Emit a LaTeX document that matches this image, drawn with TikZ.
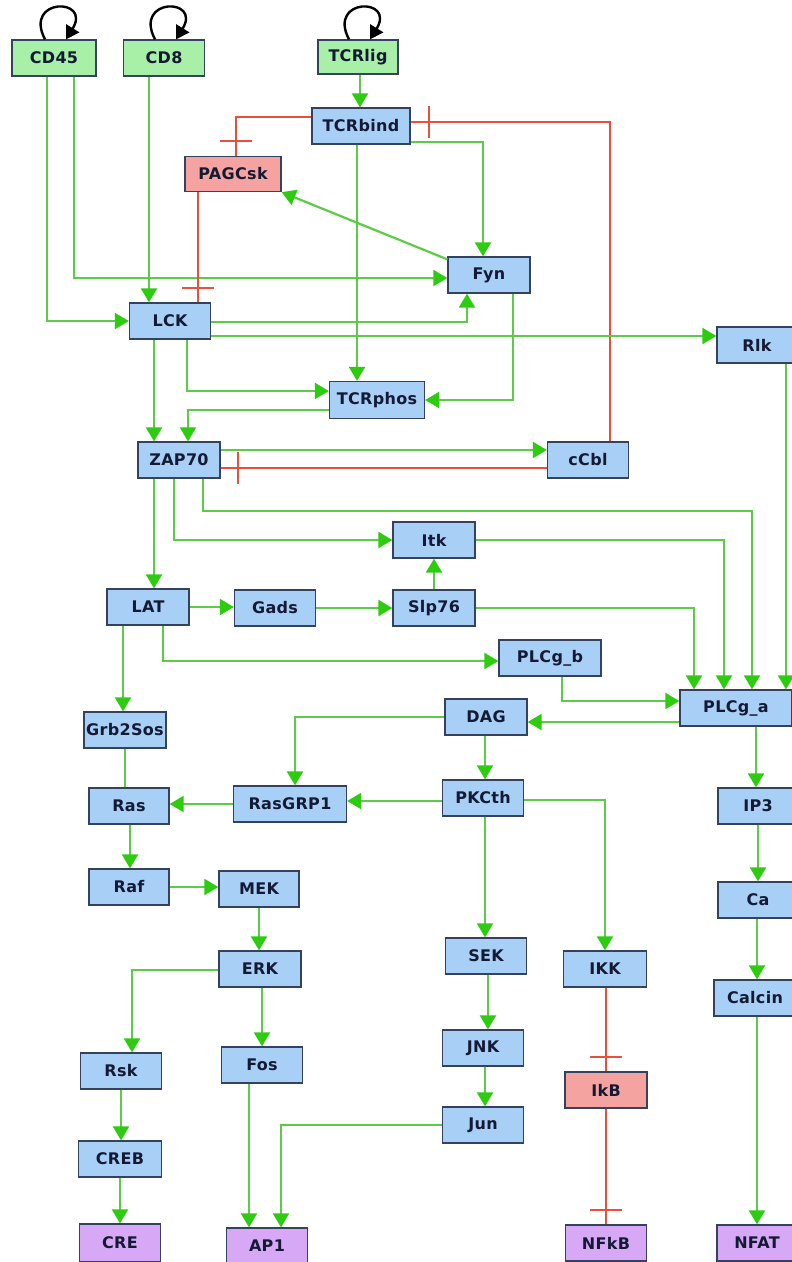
\documentclass[tikz,border=0pt]{standalone}
\usepackage{fontspec}
\newfontfamily\nodefont{DejaVu Sans}[LetterSpace=2]
\usetikzlibrary{arrows.meta,decorations.markings,calc}
\definecolor{bordc}{HTML}{34425E}
\definecolor{fblue}{HTML}{A8CFF5}
\definecolor{fgreen}{HTML}{A8EFA8}
\definecolor{fred}{HTML}{F5A3A0}
\definecolor{fpurp}{HTML}{D6A8F5}
\definecolor{lgreen}{HTML}{5CCB48}
\definecolor{agreen}{HTML}{2ECC10}
\definecolor{ired}{HTML}{E8503C}
\definecolor{txtc}{HTML}{141A33}
\tikzset{
  box/.style={draw=bordc, line width=1.3pt, minimum width=#1, minimum height=36pt, inner sep=0pt,
    font=\nodefont\bfseries\fontsize{16}{16}\selectfont, text=txtc},
  box/.default=82pt,
  bnode/.style={box=#1, fill=fblue}, bnode/.default=82pt,
  gnode/.style={box=#1, fill=fgreen}, gnode/.default=82pt,
  rnode/.style={box=#1, fill=fred}, rnode/.default=82pt,
  pnode/.style={box=#1, fill=fpurp}, pnode/.default=82pt,
  act/.style={draw=lgreen, line width=2.2pt, -{Triangle[length=14pt,width=16pt,color=agreen]}},
  plain/.style={draw=lgreen, line width=2.2pt},
  inh/.style={draw=ired, line width=2.2pt, postaction={decorate},
    decoration={markings, mark=at position -#1 with {\draw[ired, line width=2.2pt] (0,-16pt) -- (0,16pt);}}},
  inh/.default=15pt,
  selfloop/.style={draw=black, line width=2.4pt, -{Triangle[length=13pt,width=15pt]}}
}
\begin{document}
\begin{tikzpicture}[x=1pt,y=-1pt]
\useasboundingbox (0,0) rectangle (792,1262);
\fill[white] (0,0) rectangle (792,1262);
\clip (0,0) rectangle (792,1262);
% nodes
\node[gnode=84pt] (cd45) at (54,58) {CD45};
\node[gnode=81pt] (cd8) at (164,58) {CD8};
\node[gnode=80pt, minimum height=34pt] (tcrlig) at (358,57) {TCRlig};
\node[bnode=98pt] (tcrbind) at (361,126) {TCRbind};
\node[rnode=96pt, minimum height=35pt] (pagcsk) at (233,174) {PAGCsk};
\node[bnode] (fyn) at (489,275) {Fyn};
\node[bnode=81pt] (lck) at (170,321) {LCK};
\node[bnode=80pt] (rlk) at (757,345) {Rlk};
\node[bnode=95pt, minimum height=37pt] (tcrphos) at (377,400) {TCRphos};
\node[bnode] (zap70) at (179,460) {ZAP70};
\node[bnode=81pt] (ccbl) at (588,460) {cCbl};
\node[bnode] (itk) at (434,540) {Itk};
\node[bnode] (lat) at (148,607) {LAT};
\node[bnode=81pt] (gads) at (275,608) {Gads};
\node[bnode] (slp76) at (434,608) {Slp76};
\node[bnode=102pt] (plcgb) at (550,658) {PLCg\_b};
\node[bnode=112pt] (plcga) at (736,708) {PLCg\_a};
\node[bnode] (dag) at (486,717) {DAG};
\node[bnode] (grb2sos) at (125,730) {Grb2Sos};
\node[bnode=80pt] (ras) at (129,806) {Ras};
\node[bnode=113pt] (rasgrp1) at (290,804) {RasGRP1};
\node[bnode=81pt] (pkcth) at (483,798) {PKCth};
\node[bnode=80pt] (ip3) at (758,806) {IP3};
\node[bnode=80pt] (raf) at (129,887) {Raf};
\node[bnode=80pt] (mek) at (259,889) {MEK};
\node[bnode=80pt] (ca) at (758,900) {Ca};
\node[bnode=81pt] (sek) at (486,956) {SEK};
\node[bnode=83pt] (ikk) at (605,969) {IKK};
\node[bnode] (erk) at (260,969) {ERK};
\node[bnode] (calcin) at (755,998) {Calcin};
\node[bnode=81pt] (rsk) at (121,1071) {Rsk};
\node[bnode=81pt] (fos) at (262,1065) {Fos};
\node[bnode=81pt] (jnk) at (483,1048) {JNK};
\node[rnode] (ikb) at (606,1090) {IkB};
\node[bnode=81pt] (jun) at (483,1125) {Jun};
\node[bnode=83pt] (creb) at (120,1159) {CREB};
\node[pnode=81pt, minimum height=38pt] (cre) at (120,1243) {CRE};
\node[pnode=81pt] (ap1) at (267,1246) {AP1};
\node[pnode=81pt] (nfkb) at (606,1243) {NFkB};
\node[pnode=80pt] (nfat) at (757,1243) {NFAT};
% self loops
\foreach \n in {cd45,cd8,tcrlig}{
  \draw[selfloop] ([xshift=-9pt]\n.north) .. controls +(-22,-42) and +(26,-42) .. ([xshift=12pt]\n.north);
}
% edges
\draw[act] ([xshift=-7pt]cd45.south) |- (lck.west);
\draw[act] ([xshift=20pt]cd45.south) |- ([yshift=-3pt]fyn.west);
\draw[act] ([xshift=-15pt]cd8.south) -- ([xshift=-15pt]cd8.south |- lck.north);
\draw[act] ([xshift=2pt]tcrlig.south) -- ([xshift=2pt]tcrlig.south |- tcrbind.north);
\draw[inh] ([yshift=9pt]tcrbind.west) -| ([xshift=3pt]pagcsk.north);
\draw[act] ([yshift=-16pt]tcrbind.east) -| ([xshift=-6pt]fyn.north);
\draw[act] ([xshift=-4pt]tcrbind.south) -- ([xshift=-4pt]tcrbind.south |- tcrphos.north);
\draw[inh=18pt] ([xshift=22pt]ccbl.north) |- ([yshift=4pt]tcrbind.east);
\draw[act] ([yshift=-3pt]fyn.north west) -- (pagcsk.south east);
\draw[inh=14pt] ([xshift=-35pt]pagcsk.south) -- ([xshift=-35pt]pagcsk.south |- lck.north);
\draw[act] ([yshift=-1pt]lck.east) -| ([xshift=-22pt]fyn.south);
\draw[act] ([yshift=-15pt]lck.east) -- ([yshift=-15pt]lck.east -| rlk.west);
\draw[act] ([xshift=17pt]lck.south) |- ([yshift=9pt]tcrphos.west);
\draw[act] ([xshift=-16pt]lck.south) -- ([xshift=-16pt]lck.south |- zap70.north);
\draw[act] ([xshift=24pt]fyn.south) |- (tcrphos.east);
\draw[act] ([yshift=-10pt]tcrphos.west) -| ([xshift=9pt]zap70.north);
\draw[act] ([yshift=10pt]zap70.east) -- ([yshift=10pt]zap70.east -| ccbl.west);
\draw[inh=17pt] ([yshift=-8pt]ccbl.west) -- ([yshift=-8pt]ccbl.west -| zap70.east);
\draw[act] ([xshift=24pt]zap70.south) -- ++(0,32) -| ([xshift=16pt]plcga.north);
\draw[act] ([xshift=-5pt]zap70.south) |- (itk.west);
\draw[act] ([xshift=-25pt]zap70.south) -- ([xshift=-25pt]zap70.south |- lat.north);
\draw[act] ([xshift=29pt]rlk.south) -- ([xshift=29pt]rlk.south |- plcga.north);
\draw[act] (itk.east) -| ([xshift=-12pt]plcga.north);
\draw[act] (slp76.north) -- (itk.south);
\draw[act] (slp76.east) -| ([xshift=-42pt]plcga.north);
\draw[act] (lat.east) -- (lat.east -| gads.west);
\draw[act] (gads.east) -- (gads.east -| slp76.west);
\draw[act] ([xshift=15pt]lat.south) |- ([yshift=-3pt]plcgb.west);
\draw[act] ([xshift=-25pt]lat.south) -- ([xshift=-25pt]lat.south |- grb2sos.north);
\draw[act] ([xshift=12pt]plcgb.south) |- ([yshift=7pt]plcga.west);
\draw[act] ([yshift=-14pt]plcga.west) -- ([yshift=-14pt]plcga.west -| dag.east);
\draw[act] ([xshift=20pt]plcga.south) -- ([xshift=20pt]plcga.south |- ip3.north);
\draw[act] (dag.west) -| ([xshift=5pt]rasgrp1.north);
\draw[act] ([xshift=-1pt]dag.south) -- ([xshift=-1pt]dag.south |- pkcth.north);
\draw[plain] (grb2sos.south) -- (grb2sos.south |- ras.north);
\draw[act] (rasgrp1.west) -- (rasgrp1.west -| ras.east);
\draw[act] ([yshift=-3pt]pkcth.west) -- ([yshift=-3pt]pkcth.west -| rasgrp1.east);
\draw[act] ([xshift=2pt]pkcth.south) -- ([xshift=2pt]pkcth.south |- sek.north);
\draw[act] ([yshift=-2pt]pkcth.east) -| (ikk.north);
\draw[act] ([xshift=1pt]ras.south) -- ([xshift=1pt]ras.south |- raf.north);
\draw[act] (raf.east) -- (raf.east -| mek.west);
\draw[act] (mek.south) -- (mek.south |- erk.north);
\draw[act] ([yshift=-1pt]erk.west) -| ([xshift=11pt]rsk.north);
\draw[act] ([xshift=2pt]erk.south) -- ([xshift=2pt]erk.south |- fos.north);
\draw[act] (ip3.south) -- (ip3.south |- ca.north);
\draw[act] ([xshift=-1pt]ca.south) -- ([xshift=-1pt]ca.south |- calcin.north);
\draw[act] ([xshift=2pt]calcin.south) -- ([xshift=2pt]calcin.south |- nfat.north);
\draw[act] ([xshift=2pt]sek.south) -- ([xshift=2pt]sek.south |- jnk.north);
\draw[act] ([xshift=2pt]jnk.south) -- ([xshift=2pt]jnk.south |- jun.north);
\draw[act] (jun.west) -| ([xshift=14pt]ap1.north);
\draw[act] ([xshift=-13pt]fos.south) -- ([xshift=-13pt]fos.south |- ap1.north);
\draw[inh=14pt] ([xshift=1pt]ikk.south) -- ([xshift=1pt]ikk.south |- ikb.north);
\draw[inh=14pt] (ikb.south) -- (ikb.south |- nfkb.north);
\draw[act] (rsk.south) -- (rsk.south |- creb.north);
\draw[act] (creb.south) -- (creb.south |- cre.north);
\end{tikzpicture}
\end{document}
